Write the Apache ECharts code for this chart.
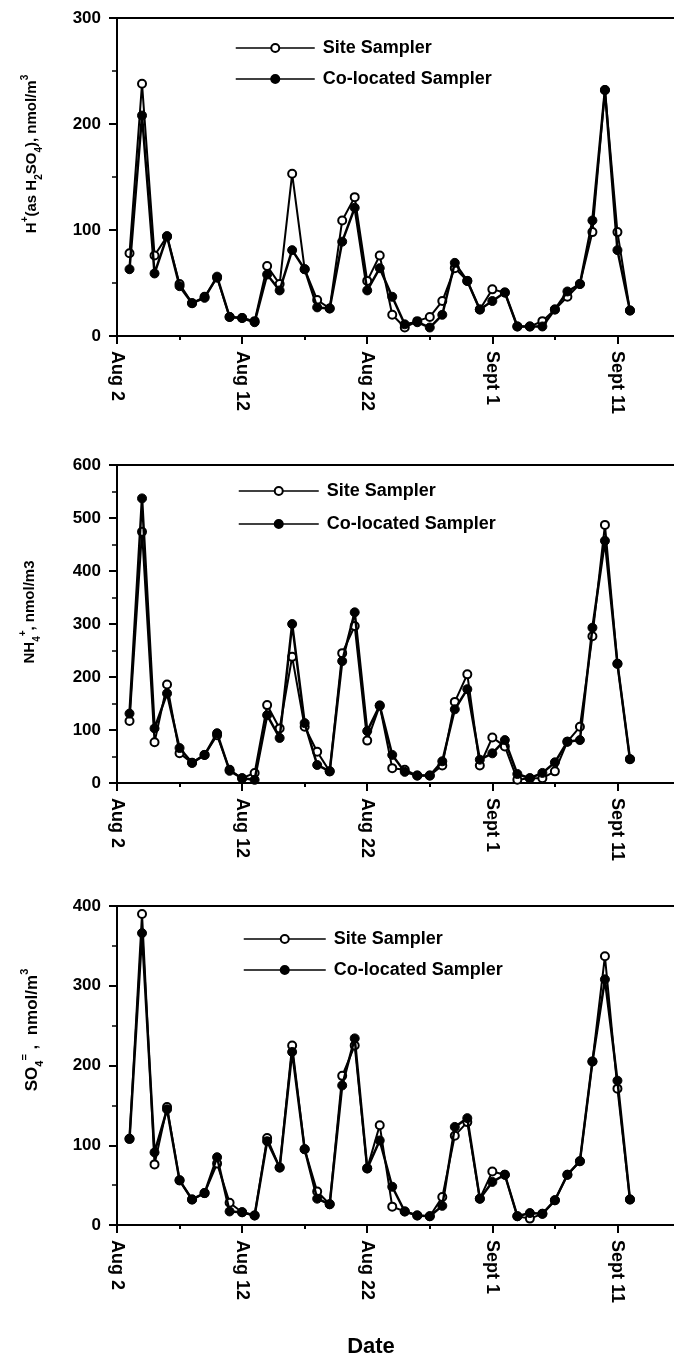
<!DOCTYPE html>
<html><head><meta charset="utf-8">
<script src="https://cdn.jsdelivr.net/npm/echarts@6/dist/echarts.min.js"></script>
<style>html,body{margin:0;padding:0;background:#fff}#c{width:674px;height:1361px}</style>
</head><body><div id="c"></div>
<script>
// Axis categories: Aug 2 .. Sept 16 (daily)
const categories = ['Aug 2','Aug 3','Aug 4','Aug 5','Aug 6','Aug 7','Aug 8','Aug 9','Aug 10','Aug 11','Aug 12','Aug 13','Aug 14','Aug 15','Aug 16','Aug 17','Aug 18','Aug 19','Aug 20','Aug 21','Aug 22','Aug 23','Aug 24','Aug 25','Aug 26','Aug 27','Aug 28','Aug 29','Aug 30','Aug 31','Sept 1','Sept 2','Sept 3','Sept 4','Sept 5','Sept 6','Sept 7','Sept 8','Sept 9','Sept 10','Sept 11','Sept 12','Sept 13','Sept 14','Sept 15','Sept 16'];
// Sampling days: Aug 3 .. Sept 12
const sampleDates = categories.slice(categories.indexOf('Aug 3'), categories.indexOf('Sept 12') + 1);
const xTickLabels = ['Aug 2','Aug 12','Aug 22','Sept 1','Sept 11'];
const seriesNames = ['Site Sampler','Co-located Sampler'];

// H+ (as H2SO4), nmol/m3
const hSite = [78,238,76,94,49,31,37,55,18,17,14,66,49,153,63,34,26,109,131,52,76,20,8,14,18,33,64,52,25,44,41,9,9,14,25,37,49,98,232,98,24];
const hCo   = [63,208,59,94,47,31,36,56,18,17,13,58,43,81,63,27,26,89,121,43,64,37,11,13,8,20,69,52,25,33,41,9,9,9,25,42,49,109,232,81,24];
// NH4+, nmol/m3
const nSite = [117,474,77,186,56,38,53,90,25,9,19,147,103,238,106,59,22,245,296,80,146,28,25,14,14,33,153,205,33,86,69,6,9,9,22,78,106,277,487,225,45];
const nCo   = [131,537,103,169,66,38,53,94,23,9,6,128,85,300,113,34,22,230,322,98,146,53,21,14,14,41,139,177,44,56,81,17,9,19,39,78,81,293,457,225,45];
// SO4=, nmol/m3
const sSite = [108,390,76,148,56,32,40,77,28,16,12,109,72,225,95,42,26,187,225,71,125,23,17,12,11,35,112,129,33,67,63,11,8,14,31,63,80,205,337,171,32];
const sCo   = [108,366,91,145,56,32,40,85,17,16,12,105,72,217,95,33,26,175,234,71,106,48,17,12,11,24,123,134,33,54,63,11,15,14,31,63,80,205,308,181,32];

const yMax = [300, 600, 400];

const FONT = 'Liberation Sans';
function toPairs(vals){ return sampleDates.map((d,i)=>[d, vals[i]]); }

const grids = [
  {left:117, width:563, top:18, height:318},
  {left:117, width:563, top:465, height:318},
  {left:117, width:563, top:906, height:319}
].map(g=>Object.assign(g,{show:true,borderColor:'#000',borderWidth:2,backgroundColor:'transparent',
  containLabel:false, outerBoundsMode:'none'}));

const xAxes = [0,1,2].map(i=>({
  type:'category', gridIndex:i, data:categories, boundaryGap:false,
  axisLine:{lineStyle:{color:'#000',width:2}},
  axisTick:{interval:(idx,val)=>xTickLabels.indexOf(val)>=0, length:8, lineStyle:{color:'#000',width:2}},
  axisLabel:{interval:(idx,val)=>xTickLabels.indexOf(val)>=0, rotate:-90, margin:15,
    color:'#000', fontFamily:FONT, fontWeight:'bold', fontSize:18},
  splitLine:{show:false}
})).concat([0,1,2].map(i=>({
  // short intermediate ticks every 5 days
  type:'category', gridIndex:i, data:categories, boundaryGap:false, position:'bottom',
  axisLine:{show:false},
  axisTick:{interval:(idx,val)=>idx%5===0 && xTickLabels.indexOf(val)<0, length:4, lineStyle:{color:'#000',width:2}},
  axisLabel:{show:false}, splitLine:{show:false}
})));

const yAxes = [0,1,2].map(i=>({
  type:'value', gridIndex:i, min:0, max:yMax[i], interval:100,
  axisLine:{show:true,lineStyle:{color:'#000',width:2}},
  axisTick:{show:true,length:8,lineStyle:{color:'#000',width:2}},
  minorTick:{show:true,splitNumber:2,length:5,lineStyle:{color:'#000',width:1.5}},
  axisLabel:{margin:16,color:'#000',fontFamily:FONT,fontWeight:'bold',fontSize:17},
  splitLine:{show:false}
}));

const dataSets = [[hSite,hCo],[nSite,nCo],[sSite,sCo]];
const series = [];
dataSets.forEach((pair,i)=>{
  series.push({name:seriesNames[0], type:'line', xAxisIndex:i, yAxisIndex:i, data:toPairs(pair[0]),
    symbol:'circle', symbolSize:8, showAllSymbol:true,
    itemStyle:{color:'#fff',borderColor:'#000',borderWidth:2},
    lineStyle:{color:'#000',width:2}, animation:false, z:2});
  series.push({name:seriesNames[1], type:'line', xAxisIndex:i, yAxisIndex:i, data:toPairs(pair[1]),
    symbol:'circle', symbolSize:9, showAllSymbol:true,
    itemStyle:{color:'#000',borderColor:'#000',borderWidth:1},
    lineStyle:{color:'#000',width:2.5}, animation:false, z:3});
});

const legendPos = [{left:235,top:39,gap:13,w:79},{left:238,top:482,gap:15,w:80},{left:243,top:930,gap:13,w:82}];
const legends = legendPos.map(p=>({
  orient:'vertical', left:p.left, top:p.top, itemGap:p.gap, itemWidth:p.w, itemHeight:10, padding:0,
  data:seriesNames, selectedMode:false,
  lineStyle:{width:1.5},
  textStyle:{color:'#000',fontFamily:FONT,fontWeight:'bold',fontSize:18,lineHeight:16,padding:[0,0,0,3]}
}));

const rich = {
  b:{fontFamily:FONT,fontWeight:'bold',fontSize:15,color:'#000',lineHeight:24},
  sup:{fontFamily:FONT,fontWeight:'bold',fontSize:10,color:'#000',lineHeight:14,verticalAlign:'top'},
  sub:{fontFamily:FONT,fontWeight:'bold',fontSize:10,color:'#000',lineHeight:14,verticalAlign:'bottom'}
};
const rich3 = {
  b:{fontFamily:FONT,fontWeight:'bold',fontSize:17,color:'#000',lineHeight:26},
  sup:{fontFamily:FONT,fontWeight:'bold',fontSize:11,color:'#000',lineHeight:15,verticalAlign:'top'},
  sub:{fontFamily:FONT,fontWeight:'bold',fontSize:11,color:'#000',lineHeight:15,verticalAlign:'bottom'}
};
function yTitle(text,x,y,r){
  return {type:'text', x:x, y:y, rotation:Math.PI/2,
    style:{text:text, rich:r||rich, align:'center', verticalAlign:'middle'}};
}

const option = {
  animation:false,
  backgroundColor:'#fff',
  grid:grids, xAxis:xAxes, yAxis:yAxes, series:series, legend:legends,
  graphic:[
    yTitle('{b|H}{sup|+}{b|(as H}{sub|2}{b|SO}{sub|4}{b|), nmol/m}{sup|3}',32,154),
    yTitle('{b|NH}{sub|4}{sup|+}{b|, nmol/m3}',30,612),
    yTitle('{b|SO}{sub|4}{sup|=}{b| ,  nmol/m}{sup|3}',32,1030,rich3),
    {type:'text', x:371, y:1347, style:{text:'Date', font:'bold 22px "Liberation Sans"', fill:'#000', align:'center', verticalAlign:'middle'}}
  ]
};
const chart = echarts.init(document.getElementById('c'),null,{renderer:'canvas'});
chart.setOption(option);
</script></body></html>
